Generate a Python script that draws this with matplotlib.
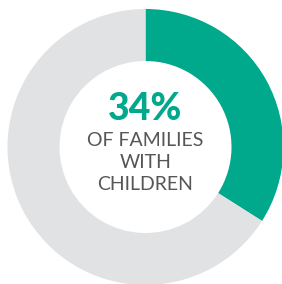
import matplotlib.pyplot as plt

# data
shares = [34, 66]
segment_names = ["Families with children", "Other"]
headline = "34%"
caption_lines = ["OF FAMILIES", "WITH", "CHILDREN"]

GREEN = "#00a88c"
GRAY = "#e1e2e4"
TEXT = "#555658"

fig = plt.figure(figsize=(2.82, 2.84), dpi=100)
ax = fig.add_axes([0, 0, 1, 1])

# donut, green slice starts at 12 o'clock going clockwise
ax.pie(shares, colors=[GREEN, GRAY], startangle=90, counterclock=False,
       center=(145.5, 137), radius=138,
       wedgeprops=dict(width=52, linewidth=0))

ax.set_xlim(0, 282)
ax.set_ylim(0, 284)
ax.set_aspect("equal")
ax.axis("off")

ax.text(145.5, 284 - 109, headline, ha="center", va="center",
        fontsize=27, fontweight=900, color=GREEN, family="Lato")
ys = [140, 163, 185]
for line, y in zip(caption_lines, ys):
    ax.text(145.5, 284 - y, line, ha="center", va="center",
            fontsize=14, color=TEXT, family="Lato")

fig.savefig("out.png", dpi=100)
